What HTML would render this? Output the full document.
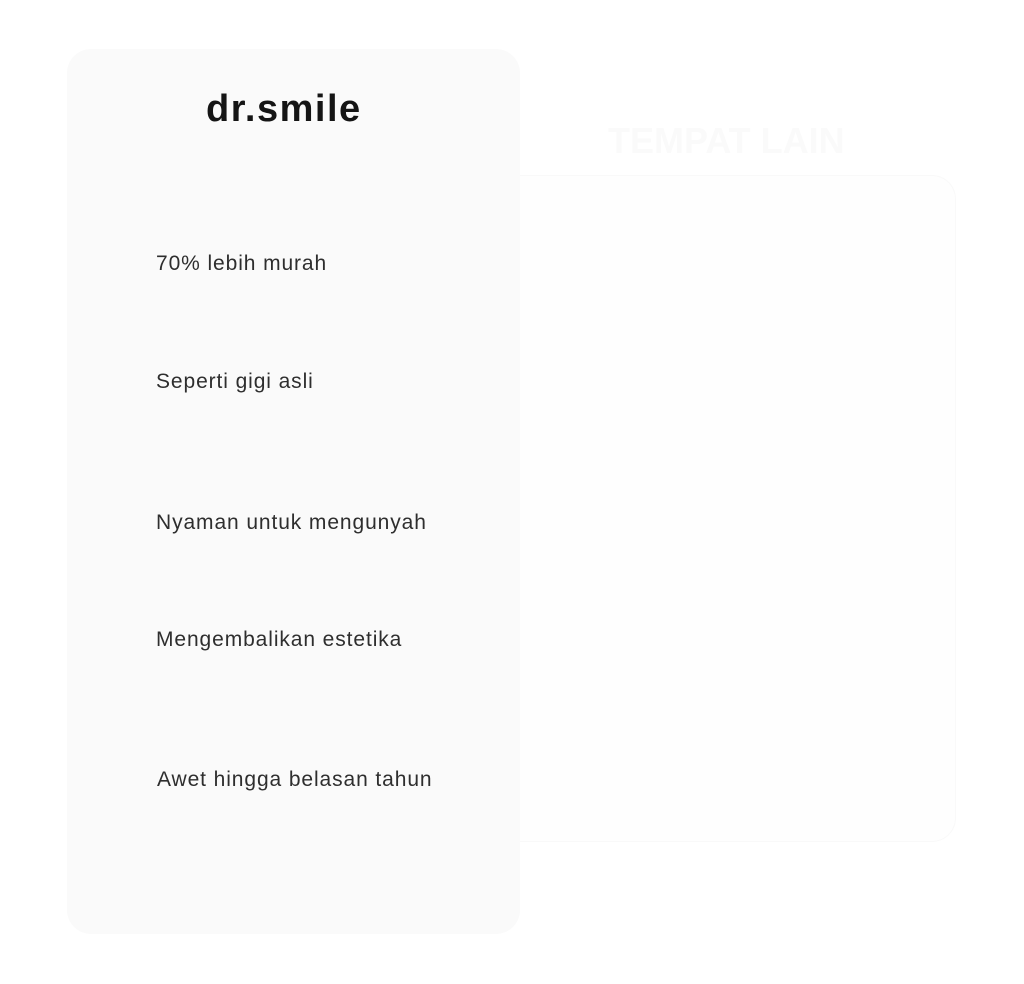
<!DOCTYPE html>
<html><head><style>
body{margin:0;width:1024px;height:984px;background:#fff;position:relative;font-family:"Liberation Sans",sans-serif;overflow:hidden}
.card{position:absolute;left:67px;top:49px;width:453px;height:885px;background:#fafafa;border-radius:24px}
.r{position:absolute;left:500px;top:175px;width:455px;height:665px;border:1px solid #f9f9f9;border-left:none;border-radius:0 24px 24px 0;background:#fefefe}
.logo{position:absolute;left:206px;top:88px;font-size:38px;font-weight:bold;color:#151515;letter-spacing:1.5px}
.t{position:absolute;left:156px;font-size:21px;color:#2e2e2e;letter-spacing:0.9px}
.h{position:absolute;left:608px;top:120px;font-size:36px;font-weight:bold;color:#fafafa}
</style></head><body>
<div class="r"></div>
<div class="card"></div>
<div class="h">TEMPAT LAIN</div>
<div class="logo">dr.smile</div>
<div class="t" style="top:252px">70% lebih murah</div>
<div class="t" style="top:370px">Seperti gigi asli</div>
<div class="t" style="top:511px">Nyaman untuk mengunyah</div>
<div class="t" style="top:628px">Mengembalikan estetika</div>
<div class="t" style="top:768px;left:157px">Awet hingga belasan tahun</div>
</body></html>
